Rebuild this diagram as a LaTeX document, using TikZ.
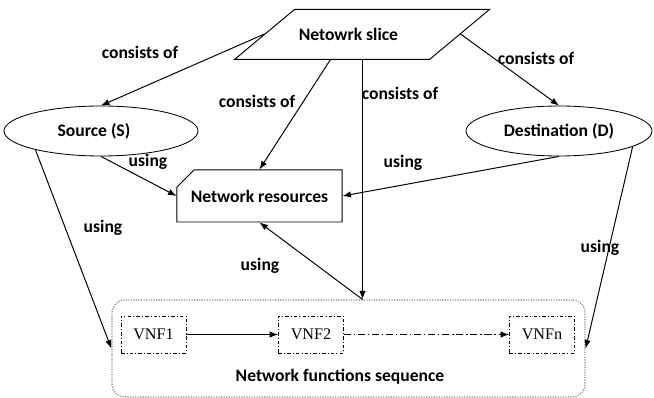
\documentclass[tikz,border=0pt]{standalone}
\usepackage{fontspec}
\setmainfont{Carlito}
\newfontfamily\vnffont{Liberation Serif}
\usetikzlibrary{shapes.geometric,shapes.misc,arrows.meta}

\tikzset{
  lbl/.style={font=\fontsize{12.5}{14}\selectfont\bfseries, inner sep=1pt},
  oval/.style={draw, ellipse, line width=0.6pt, minimum height=1.25cm, inner sep=0pt,
    font=\fontsize{12.5}{14}\selectfont\bfseries},
  vnf/.style={draw, dash pattern=on 2.5pt off 1.5pt on 0.7pt off 1.5pt, line width=0.5pt,
    minimum width=1.625cm, minimum height=0.925cm, inner sep=0pt,
    font=\vnffont\fontsize{11.5}{13}\selectfont},
}

\begin{document}
\begin{tikzpicture}[x=0.025cm, y=-0.025cm, line width=0.7pt, >={Latex[length=6pt,width=4.5pt]}]
    \useasboundingbox (0,0) rectangle (654,398);
    % main shapes
    \node[lbl, minimum width=4.875cm, minimum height=1.25cm, inner sep=0pt]
      (slice) at (362.5,34) {Netowrk slice\hspace*{20pt}};
    \draw (slice.south west) ++(-30,0) -- ++(60,-50) -- ++(195,0) -- ++(-60,50) -- cycle;
    \node[oval, minimum width=4.85cm] (source) at (101,131) {Source (S)\hspace*{10pt}};
    \node[oval, minimum width=4.65cm] (dest) at (559,131) {Destination (D)};
    \node[lbl, draw, chamfered rectangle, chamfered rectangle corners=north west,
      chamfered rectangle xsep=0.82cm, chamfered rectangle ysep=0.27cm,
      minimum width=4.125cm, minimum height=1.3cm, inner sep=0pt] (res) at (259.5,196) {Network resources};
    \node[draw=gray, densely dotted, line width=0.8pt, rounded corners=9pt,
      minimum width=11.825cm, minimum height=2.425cm] (nfs) at (348.5,348.5) {};
    \node[lbl] (nfslabel) at (340,377) {Network functions sequence};
    \node[vnf] (vnf1) at (153.5,334.5) {VNF1};
    \node[vnf] (vnf2) at (311,334.5) {VNF2};
    \node[vnf] (vnfn) at (542,334.5) {VNFn};
    \coordinate (hit) at (slice.south |- nfs.north);
    % connectors
    \draw[->] (slice.west) -- (source.north);
    \draw[->] (slice.east) -- (dest.north);
    \draw[->] ([xshift=-0.8cm]slice.south) -- (res.north);
    \draw[->] (slice.south) -- (hit);
    \draw[->] (source.south) -- (res.west);
    \draw[->] (dest.south) -- (res.east);
    \draw[->] (source.196) -- (nfs.west);
    \draw[->] (dest.348) -- (nfs.east);
    \draw[->] (hit) -- (res.south);
    \draw[->] (vnf1) -- (vnf2);
    \draw[->, dash pattern=on 5pt off 2pt on 1pt off 2pt] (vnf2) -- (vnfn);
    % labels
    \node[lbl] (c1) at (140,52) {consists of};
    \node[lbl] (c2) at (536,58) {consists of};
    \node[lbl] (c3) at (257,101) {consists of};
    \node[lbl] (c4) at (400,93) {consists of};
    \node[lbl] (u1) at (148,162) {using};
    \node[lbl] (u2) at (403,163) {using};
    \node[lbl] (u3) at (103,228) {using};
    \node[lbl] (u4) at (260,266) {using};
    \node[lbl] (u5) at (600,248) {using};
\end{tikzpicture}
\end{document}
